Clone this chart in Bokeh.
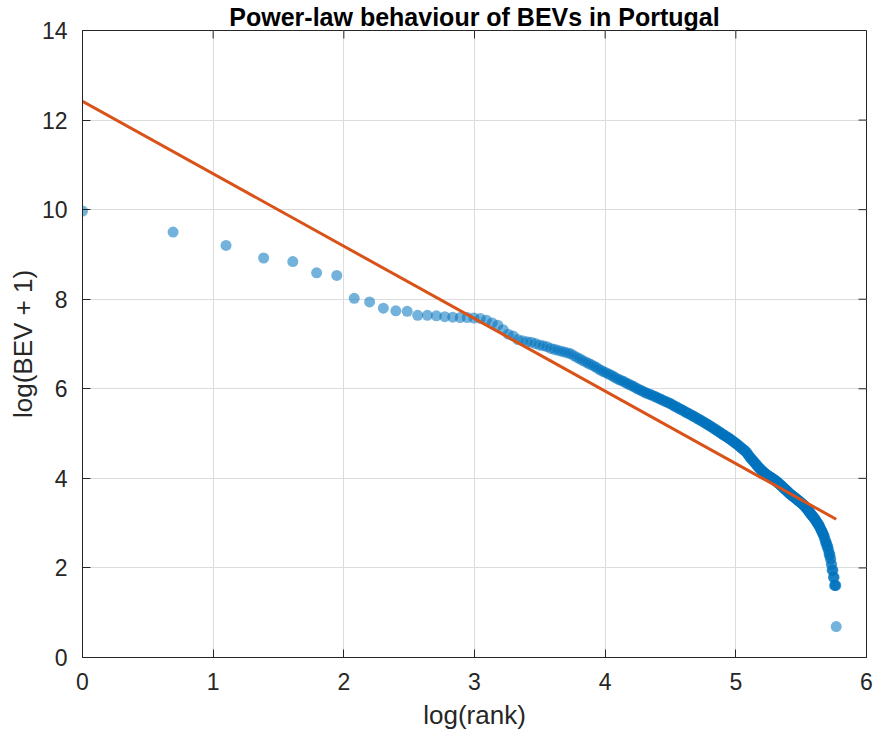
import numpy as np
from bokeh.plotting import figure
from bokeh.models import Range1d, FixedTicker
from bokeh.embed import file_html
from bokeh.resources import INLINE

# log(BEV + 1) of each municipality, sorted by rank
log_bev = [
    9.97, 9.50, 9.20, 8.92, 8.84, 8.59, 8.53, 8.02, 7.94, 7.80,
    7.74, 7.73, 7.64, 7.64, 7.63, 7.61, 7.60, 7.59, 7.59, 7.58,
    7.57, 7.53, 7.47, 7.42, 7.32, 7.22, 7.18, 7.10, 7.07, 7.05,
    7.04, 7.01, 6.98, 6.96, 6.94, 6.90, 6.88, 6.86, 6.84, 6.82,
    6.80, 6.78, 6.74, 6.70, 6.67, 6.63, 6.60, 6.57, 6.54, 6.51,
    6.48, 6.44, 6.41, 6.38, 6.36, 6.33, 6.31, 6.28, 6.25, 6.22,
    6.20, 6.18, 6.16, 6.13, 6.11, 6.09, 6.07, 6.05, 6.02, 6.00,
    5.98, 5.96, 5.94, 5.92, 5.90, 5.89, 5.87, 5.86, 5.84, 5.83,
    5.81, 5.79, 5.78, 5.76, 5.74, 5.73, 5.71, 5.70, 5.68, 5.67,
    5.65, 5.63, 5.61, 5.60, 5.58, 5.56, 5.55, 5.53, 5.52, 5.50,
    5.48, 5.47, 5.45, 5.44, 5.42, 5.41, 5.39, 5.38, 5.36, 5.35,
    5.33, 5.32, 5.30, 5.29, 5.27, 5.26, 5.24, 5.23, 5.21, 5.20,
    5.18, 5.17, 5.15, 5.14, 5.12, 5.11, 5.09, 5.08, 5.06, 5.05,
    5.03, 5.02, 5.00, 4.99, 4.97, 4.96, 4.95, 4.93, 4.92, 4.91,
    4.89, 4.88, 4.86, 4.85, 4.83, 4.82, 4.80, 4.79, 4.77, 4.76,
    4.74, 4.73, 4.71, 4.69, 4.68, 4.66, 4.65, 4.63, 4.62, 4.60,
    4.58, 4.56, 4.53, 4.51, 4.48, 4.46, 4.44, 4.42, 4.40, 4.38,
    4.36, 4.34, 4.32, 4.30, 4.28, 4.26, 4.24, 4.22, 4.21, 4.19,
    4.18, 4.16, 4.15, 4.13, 4.12, 4.11, 4.09, 4.08, 4.07, 4.06,
    4.05, 4.04, 4.03, 4.02, 4.01, 4.00, 3.99, 3.98, 3.97, 3.96,
    3.95, 3.94, 3.93, 3.91, 3.90, 3.89, 3.88, 3.86, 3.85, 3.84,
    3.83, 3.81, 3.80, 3.79, 3.77, 3.76, 3.75, 3.74, 3.72, 3.71,
    3.70, 3.69, 3.67, 3.66, 3.65, 3.64, 3.63, 3.62, 3.61, 3.60,
    3.59, 3.58, 3.57, 3.56, 3.55, 3.54, 3.53, 3.52, 3.51, 3.50,
    3.49, 3.48, 3.47, 3.46, 3.45, 3.44, 3.43, 3.42, 3.41, 3.40,
    3.39, 3.37, 3.36, 3.34, 3.33, 3.32, 3.30, 3.29, 3.27, 3.26,
    3.24, 3.23, 3.21, 3.20, 3.18, 3.17, 3.16, 3.14, 3.13, 3.12,
    3.10, 3.09, 3.07, 3.05, 3.04, 3.02, 3.00, 2.99, 2.97, 2.96,
    2.94, 2.92, 2.89, 2.87, 2.85, 2.83, 2.81, 2.79, 2.77, 2.74,
    2.71, 2.71, 2.64, 2.64, 2.57, 2.57, 2.56, 2.48, 2.48, 2.48,
    2.40, 2.40, 2.30, 2.30, 2.30, 2.20, 2.20, 2.08, 2.08, 1.95,
    1.95, 1.95, 1.79, 1.79, 1.79, 1.61, 1.61, 1.61, 1.61, 0.69,
]

# fitted power-law line: log(BEV+1) = intercept + slope * log(rank)
fit_intercept = 12.42
fit_slope = -1.618

x_ticks = [0, 1, 2, 3, 4, 5, 6]
y_ticks = [0, 2, 4, 6, 8, 10, 12, 14]
title_text = "Power-law behaviour of BEVs in Portugal"

rank = np.arange(1, len(log_bev) + 1)
log_rank = np.log(rank)

FONT = "Liberation Sans"
AX = "#262626"

W, H = 881, 735
B_LEFT, B_RIGHT, B_TOP, B_BOTTOM = 82, 15, 29, 78
X0, X1, Y0, Y1 = 0, 6, 0, 14
TICK = 8  # px, ticks pointing into the box

p = figure(width=W, height=H, output_backend="svg", toolbar_location=None,
           x_range=Range1d(X0, X1), y_range=Range1d(Y0, Y1),
           min_border_left=B_LEFT, min_border_right=B_RIGHT,
           min_border_top=B_TOP, min_border_bottom=B_BOTTOM,
           background_fill_color="white", border_fill_color="white")

p.title.text = title_text
p.title.align = "center"
p.title.text_font = FONT
p.title.text_font_size = "25px"
p.title.text_font_style = "bold"
p.title.text_color = "black"
p.title.standoff = 0
p.title.padding = 0
p.title.text_line_height = 0.9

p.xgrid.ticker = FixedTicker(ticks=x_ticks)
p.ygrid.ticker = FixedTicker(ticks=y_ticks)
p.grid.grid_line_color = "#DCDCDC"
p.grid.grid_line_width = 1

# inward ticks on the top and right sides of the box
frame_w = W - B_LEFT - B_RIGHT
frame_h = H - B_TOP - B_BOTTOM
dx = TICK * (X1 - X0) / frame_w
dy = TICK * (Y1 - Y0) / frame_h
p.segment(x0=x_ticks, y0=[Y1] * len(x_ticks), x1=x_ticks,
          y1=[Y1 - dy] * len(x_ticks), line_color=AX, line_width=1)
p.segment(x0=[X1] * len(y_ticks), y0=y_ticks, x1=[X1 - dx] * len(y_ticks),
          y1=y_ticks, line_color=AX, line_width=1)

p.scatter(log_rank, log_bev, size=11, fill_color="#0072BD", fill_alpha=0.55,
          line_color=None)

lx = np.array([log_rank.min(), log_rank.max()])
p.line(lx, fit_intercept + fit_slope * lx, line_color="#D95319", line_width=3)

p.outline_line_color = AX
p.outline_line_width = 1

for ax, ticks in ((p.xaxis[0], x_ticks), (p.yaxis[0], y_ticks)):
    ax.ticker = FixedTicker(ticks=ticks)
    ax.major_tick_in = TICK
    ax.major_tick_out = 0
    ax.minor_tick_line_color = None
    ax.axis_line_color = AX
    ax.major_tick_line_color = AX
    ax.major_label_text_font = FONT
    ax.major_label_text_font_size = "23px"
    ax.major_label_text_color = AX
    ax.axis_label_text_font = FONT
    ax.axis_label_text_font_size = "26px"
    ax.axis_label_text_font_style = "normal"
    ax.axis_label_text_color = AX

p.xaxis.axis_label = "log(rank)"
p.yaxis.axis_label = "log(BEV + 1)"
p.xaxis.major_label_standoff = 15
p.yaxis.major_label_standoff = 15
p.xaxis.axis_label_standoff = 7
p.yaxis.axis_label_standoff = 1

open("out.html", "w").write(file_html(p, INLINE))
